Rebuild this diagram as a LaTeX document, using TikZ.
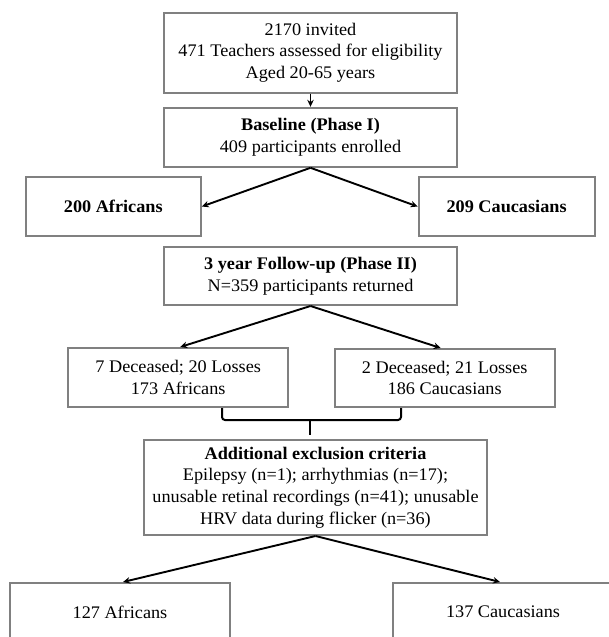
\documentclass[tikz,border=0pt]{standalone}
\usepackage{fontspec}
\setmainfont{Liberation Serif}[FakeStretch=1.03]
\usetikzlibrary{arrows.meta}
\definecolor{boxgray}{RGB}{128,128,128}
\begin{document}
\begin{tikzpicture}[x=1pt,y=-1pt,
  box/.style={draw=boxgray, line width=2pt, align=center, inner sep=0pt, text=black,
    font=\fontsize{17.7}{21.6}\selectfont},
  arr/.style={-{Stealth[length=7pt,width=6.5pt]}, line width=1.9pt, black},
  brace/.style={line width=2pt, black, rounded corners=3pt}]
\useasboundingbox (0,0) rectangle (609,637);
\clip (0,0) rectangle (609,637);
\node[box, minimum width=293pt, minimum height=80pt] (inv) at (310.5,52.5)
  {2170 invited\\471 Teachers assessed for eligibility\\Aged 20-65 years};
\node[box, minimum width=293pt, minimum height=59pt] (base) at (310.5,137.3)
  {\textbf{Baseline (Phase I)}\\409 participants enrolled};
\node[box, minimum width=175pt, minimum height=59pt] (afr) at (113.3,206.5)
  {\textbf{200 Africans}};
\node[box, minimum width=176pt, minimum height=59pt] (cau) at (506.6,206.5)
  {\textbf{209 Caucasians}};
\node[box, minimum width=293pt, minimum height=58pt] (fu) at (310.5,276)
  {\textbf{3 year Follow-up (Phase II)}\\N=359 participants returned};
\node[box, minimum width=220pt, minimum height=59pt] (dl) at (178.2,377.5)
  {7 Deceased; 20 Losses\\173 Africans};
\node[box, minimum width=220pt, minimum height=58pt] (dr) at (444.7,378)
  {2 Deceased; 21 Losses\\186 Caucasians};
\node[box, minimum width=343pt, minimum height=95pt] (exc) at (315.5,487.5)
  {\textbf{Additional exclusion criteria}\\Epilepsy (n=1); arrhythmias (n=17);\\unusable retinal recordings (n=41); unusable\\HRV data during flicker (n=36)};
\node[box, minimum width=220pt, minimum height=58pt] (fa) at (120,612)
  {127 Africans};
\node[box, minimum width=220pt, minimum height=58pt] (fc) at (503,612)
  {137 Caucasians};
% connectors
\draw[arr] (inv.south) -- (base.north);
\draw[arr] (base.south) -- (afr.east);
\draw[arr] (base.south) -- (cau.west);
\draw[arr] (fu.south) -- ([xshift=2pt]dl.north);
\draw[arr] (fu.south) -- ([xshift=-4pt]dr.north);
\coordinate (bl) at (222,420);
\coordinate (br) at (401,420);
\coordinate (bm) at (310,420);
\coordinate (bt) at (310,435);
\draw[brace] (dl.south -| bl) -- (bl) -- (br) -- (dr.south -| br);
\draw[line width=2pt] (bm) -- (bt);
\draw[arr] (exc.south) -- ([xshift=3pt]fa.north);
\draw[arr] (exc.south) -- ([xshift=-3pt]fc.north);
\end{tikzpicture}
\end{document}
